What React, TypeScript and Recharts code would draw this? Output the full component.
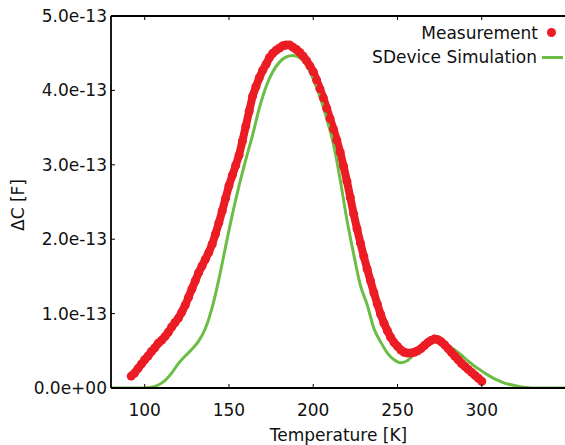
import { ComposedChart, Line, XAxis, YAxis } from "recharts";

const FONT = "'DejaVu Sans', Verdana, sans-serif";
const RED = "#ec1c24";
const GREEN = "#6cbd45";

// ΔC values in units of 1e-13 F
const measTemp = [
  92, 94, 96, 98, 100, 102, 104, 106, 108, 110, 112, 114, 116, 118, 120, 122, 124, 126, 128, 130,
  132, 134, 136, 138, 140, 142, 144, 146, 148, 150, 152, 154, 156, 158, 160, 162, 164, 166, 168, 170,
  172, 174, 176, 178, 180, 182, 184, 186, 188, 190, 192, 194, 196, 198, 200, 202, 204, 206, 208, 210,
  212, 214, 216, 218, 220, 222, 224, 226, 228, 230, 232, 234, 236, 238, 240, 242, 244, 246, 248, 250,
  252, 254, 256, 258, 260, 262, 264, 266, 268, 270, 272, 274, 276, 278, 280, 282, 284, 286, 288, 290,
  292, 294, 296, 298, 300,
];
const measDC = [
  0.16, 0.2, 0.26, 0.32, 0.38, 0.43, 0.49, 0.54, 0.6, 0.64, 0.69, 0.75, 0.82, 0.88, 0.94, 1.02, 1.11, 1.22, 1.33, 1.44,
  1.55, 1.64, 1.73, 1.82, 1.93, 2.07, 2.22, 2.38, 2.55, 2.72, 2.86, 2.99, 3.13, 3.32, 3.52, 3.72, 3.92, 4.05, 4.17, 4.27,
  4.35, 4.44, 4.5, 4.54, 4.57, 4.6, 4.61, 4.61, 4.58, 4.55, 4.51, 4.46, 4.4, 4.33, 4.25, 4.14, 4.02, 3.9, 3.76, 3.62,
  3.48, 3.33, 3.17, 2.98, 2.78, 2.56, 2.34, 2.14, 1.95, 1.77, 1.6, 1.44, 1.28, 1.13, 0.99, 0.87, 0.77, 0.68, 0.61, 0.56,
  0.51, 0.48, 0.47, 0.47, 0.48, 0.5, 0.53, 0.57, 0.61, 0.64, 0.66, 0.65, 0.62, 0.58, 0.53, 0.48, 0.43, 0.38, 0.33, 0.29,
  0.25, 0.21, 0.17, 0.13, 0.09,
];

const simTemp = [
  80, 90, 100, 104, 108, 112, 116, 120, 124, 128, 132, 136, 140, 144, 148, 152, 156, 160, 164, 168,
  172, 176, 180, 184, 188, 192, 196, 200, 204, 208, 212, 216, 220, 224, 228, 232, 236, 240, 244, 248,
  252, 256, 260, 264, 268, 272, 276, 280, 284, 288, 292, 296, 300, 304, 308, 312, 316, 320, 325, 330,
  340, 350,
];
const simDC = [
  0, 0, 0, 0.01, 0.04, 0.1, 0.2, 0.33, 0.43, 0.52, 0.63, 0.8, 1.08, 1.46, 1.9, 2.33, 2.72, 3.07, 3.4, 3.76,
  4.05, 4.25, 4.38, 4.45, 4.47, 4.44, 4.34, 4.16, 3.92, 3.62, 3.28, 2.8, 2.26, 1.8, 1.38, 1.12, 0.8, 0.62, 0.47, 0.38,
  0.34, 0.37, 0.46, 0.54, 0.59, 0.62, 0.61, 0.57, 0.51, 0.44, 0.36, 0.29, 0.23, 0.17, 0.12, 0.08, 0.05, 0.03, 0.01, 0,
  0, 0,
];

const xTicks = [100, 150, 200, 250, 300];
const yTicks = [0, 1, 2, 3, 4, 5];

const measData = measTemp.map((t, i) => ({ t, v: measDC[i] }));
const simData = simTemp.map((t, i) => ({ t, v: simDC[i] }));

const yLabel = (v: number) => (v === 0 ? "0.0e+00" : `${v.toFixed(1)}e-13`);

function BottomTick({ x, y, payload }: any) {
  return (
    <g>
      <line x1={x} x2={x} y1={y} y2={y - 4} stroke="#000" strokeWidth={1} />
      <text x={x} y={y + 28} textAnchor="middle" fontSize={17} fontFamily={FONT} fill="#111">
        {payload.value}
      </text>
    </g>
  );
}

function TopTick({ x, y }: any) {
  return <line x1={x} x2={x} y1={y} y2={y + 4} stroke="#000" strokeWidth={1} />;
}

function LeftTick({ x, y, payload }: any) {
  return (
    <g>
      <line x1={x} x2={x + 4} y1={y} y2={y} stroke="#000" strokeWidth={1} />
      <text x={x - 4} y={y + 6} textAnchor="end" fontSize={17} fontFamily={FONT} fill="#111">
        {yLabel(payload.value)}
      </text>
    </g>
  );
}

const textStyle = { position: "absolute" as const, fontFamily: FONT, fontSize: 17, color: "#111", lineHeight: "20px", whiteSpace: "nowrap" as const };

export default function App() {
  return (
    <div style={{ position: "fixed", left: 0, top: 0, width: 565, height: 445, overflow: "hidden", background: "#fff" }}>
      <ComposedChart width={570} height={445} margin={{ top: 6, right: 4, bottom: 7, left: 11 }}>
        <XAxis
          dataKey="t"
          type="number"
          domain={[80, 350]}
          ticks={xTicks}
          height={50}
          tickSize={0}
          tickMargin={0}
          tickLine={false}
          axisLine={{ stroke: "#000", strokeWidth: 1.8 }}
          tick={<BottomTick />}
          allowDataOverflow
        />
        <XAxis
          xAxisId="top"
          orientation="top"
          dataKey="t"
          type="number"
          domain={[80, 350]}
          ticks={xTicks}
          height={10}
          tickSize={0}
          tickMargin={0}
          tickLine={false}
          axisLine={{ stroke: "#000", strokeWidth: 1.8 }}
          tick={<TopTick />}
          allowDataOverflow
        />
        <YAxis
          type="number"
          domain={[0, 5]}
          ticks={yTicks}
          width={100}
          tickSize={0}
          tickMargin={0}
          tickLine={false}
          axisLine={{ stroke: "#000", strokeWidth: 1.8 }}
          tick={<LeftTick />}
          allowDataOverflow
        />
        <Line
          data={measData}
          dataKey="v"
          type="linear"
          stroke={RED}
          strokeWidth={8}
          strokeLinecap="round"
          dot={{ r: 4.5, fill: RED, stroke: "none" }}
          isAnimationActive={false}
        />
        <Line
          data={simData}
          dataKey="v"
          type="monotone"
          stroke={GREEN}
          strokeWidth={3}
          dot={false}
          isAnimationActive={false}
        />
      </ComposedChart>

      <div style={{ ...textStyle, right: 27, top: 23 }}>Measurement</div>
      <div style={{ position: "absolute", left: 547, top: 28, width: 9, height: 9, borderRadius: "50%", background: RED }} />
      <div style={{ ...textStyle, right: 28, top: 47 }}>SDevice Simulation</div>
      <div style={{ position: "absolute", left: 542, top: 56, width: 21, height: 3, background: GREEN }} />

      <div style={{ ...textStyle, left: 0, width: 677, textAlign: "center", top: 425 }}>Temperature [K]</div>
      <div style={{ ...textStyle, left: 18, top: 205, transform: "translate(-50%, -50%) rotate(-90deg)" }}>ΔC [F]</div>
    </div>
  );
}
